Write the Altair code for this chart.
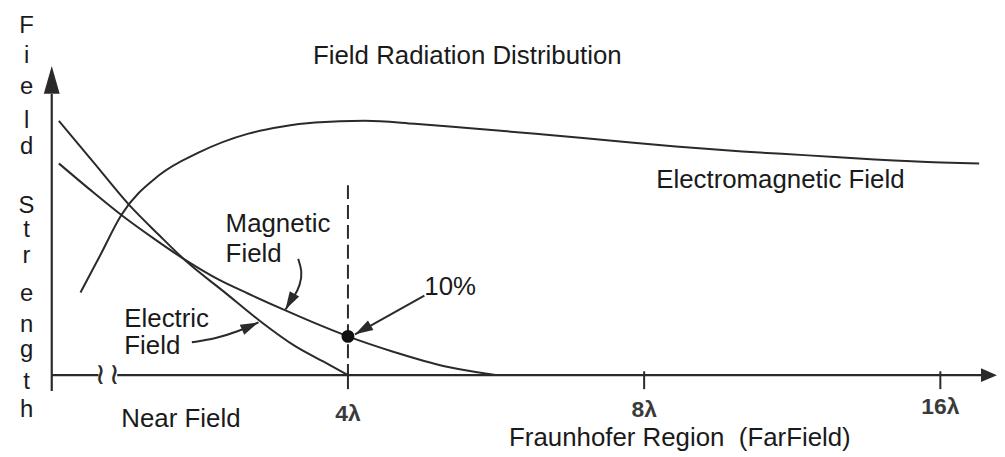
import altair as alt
import pandas as pd

# x: distance position (1 = 4λ, 2 = 8λ, 3 = 16λ), y: relative field strength
electric_x = [0.024, 0.144, 0.262, 0.362, 0.456, 0.581, 0.705, 0.822, 0.933, 1.0]
electric_y = [85.3, 71.0, 57.0, 47.0, 38.0, 28.0, 18.0, 9.7, 3.7, 0.0]

magnetic_x = [0.024, 0.128, 0.235, 0.346, 0.456, 0.564, 0.664, 0.789, 0.899, 1.0,
              1.158, 1.326, 1.436, 1.503]
magnetic_y = [71.0, 62.3, 53.7, 45.7, 38.3, 32.0, 27.3, 21.7, 17.0, 13.0,
              7.7, 3.0, 1.0, 0.0]

em_x = [0.097, 0.161, 0.235, 0.362, 0.497, 0.664, 0.775, 0.889, 1.057,
        1.225, 1.393, 1.661, 1.883, 2.107, 2.332, 2.554, 2.779, 3.003, 3.131]
em_y = [27.7, 39.7, 53.7, 67.0, 74.7, 81.0, 83.3, 84.7, 85.3,
        84.3, 83.0, 80.7, 78.7, 76.7, 75.0, 73.7, 72.3, 71.3, 71.0]

# axes
yaxis_x = [0.0, 0.0]
yaxis_y = [-5.3, 94.3]
xaxis_seg = [1, 1, 2, 2]
xaxis_x = [0.0, 0.158, 0.221, 3.148]
xaxis_y = [0.0, 0.0, 0.0, 0.0]
break_x = [0.164, 0.211]
tick_x = [1, 2, 3]
tick_labels = ["4λ", "8λ", "16λ"]
tick_label_y = [-15.3, -14.0, -13.0]
tick_top = 1.3
tick_bottom = -4.7

# 4λ marker
marker_x = [1.0]
marker_y = [13.0]
dash_top = 63.7

# annotation arrows
arrow_id = [1, 1, 2, 2, 2, 2, 2, 3, 3, 3, 3]
arrow_x = [1.258, 1.024, 0.832, 0.846, 0.839, 0.819, 0.789, 0.473, 0.554, 0.631, 0.698]
arrow_y = [26.7, 13.7, 39.0, 34.7, 30.3, 26.3, 22.0, 11.0, 12.3, 14.7, 17.7]
tip_x = [1.024, 0.789, 0.698]
tip_y = [13.7, 22.0, 17.7]
tip_angle = [240, 210, 66]

# texts
label_text = ["Magnetic", "Field", "10%", "Electric", "Field", "Near Field",
              "Fraunhofer Region\u00a0 (FarField)"]
label_x = [0.587, 0.587, 1.258, 0.245, 0.245, 0.235, 1.544]
label_y = [48.0, 38.0, 27.0, 16.3, 7.0, -17.3, -23.7]

center_text = ["Field Radiation Distribution", "Electromagnetic Field"]
center_x = [1.403, 2.460]
center_y = [104.3, 62.7]

side_letters = list("FieldStrength")
side_x = -0.085
side_y = [114.7, 104.7, 94.3, 83.0, 74.3, 54.3, 46.3, 37.7, 24.7, 14.3, 6.0, -4.7, -14.0]

INK = "#2a2a2a"
TEXT = "#1a1a1a"
FONT = "Liberation Sans"

xs = alt.Scale(domain=[-0.1477, 3.1913], nice=False, zero=False)
ys = alt.Scale(domain=[-27.0, 122.67], nice=False, zero=False)
X = lambda f="x": alt.X(f"{f}:Q", scale=xs, axis=None)
Y = lambda f="y": alt.Y(f"{f}:Q", scale=ys, axis=None)

curves = pd.DataFrame({
    "x": electric_x + magnetic_x + em_x,
    "y": electric_y + magnetic_y + em_y,
    "s": ["E"] * len(electric_x) + ["M"] * len(magnetic_x) + ["EM"] * len(em_x),
})
curve_layer = alt.Chart(curves).mark_line(color=INK, strokeWidth=2, interpolate="monotone").encode(
    x=X(), y=Y(), detail="s:N")

yaxis = alt.Chart(pd.DataFrame({"x": yaxis_x, "y": yaxis_y})).mark_line(color=INK, strokeWidth=2.2).encode(
    x=X(), y=Y())
xaxis = alt.Chart(pd.DataFrame({"x": xaxis_x, "y": xaxis_y, "seg": xaxis_seg})).mark_line(
    color=INK, strokeWidth=2.2).encode(x=X(), y=Y(), detail="seg:N")
breaks = alt.Chart(pd.DataFrame({"x": break_x, "y": [0.0, 0.0], "t": ["≀", "≀"]})).mark_text(
    font="DejaVu Sans", fontSize=30, color=INK, baseline="middle", align="center").encode(
    x=X(), y=Y(), text="t:N")

ticks = alt.Chart(pd.DataFrame({"x": tick_x, "y": [tick_top] * 3, "y2": [tick_bottom] * 3})).mark_rule(
    color=INK, strokeWidth=2).encode(x=X(), y=Y(), y2="y2:Q")
tick_text = alt.Chart(pd.DataFrame({"x": tick_x, "y": tick_label_y, "t": tick_labels})).mark_text(
    font=FONT, fontSize=23, fontWeight="bold", color="#3a3a3a", align="center", baseline="alphabetic").encode(
    x=X(), y=Y(), text="t:N")

dash = alt.Chart(pd.DataFrame({"x": marker_x, "y": [dash_top], "y2": [0.0]})).mark_rule(
    color=INK, strokeWidth=2, strokeDash=[14, 6]).encode(x=X(), y=Y(), y2="y2:Q")
dot = alt.Chart(pd.DataFrame({"x": marker_x, "y": marker_y})).mark_point(
    shape="circle", filled=True, size=170, color="#111", opacity=1).encode(x=X(), y=Y())

arrows = alt.Chart(pd.DataFrame({"x": arrow_x, "y": arrow_y, "a": arrow_id,
                                 "i": list(range(len(arrow_x)))})).mark_line(
    color=INK, strokeWidth=2, interpolate="basis").encode(
    x=X(), y=Y(), detail="a:N", order="i:Q")
tips = alt.Chart(pd.DataFrame({"x": tip_x, "y": tip_y, "ang": tip_angle})).mark_point(
    shape="M0,0L-0.6,2L0.6,2Z", filled=True, size=330, color=INK, opacity=1).encode(
    x=X(), y=Y(), angle=alt.Angle("ang:Q", scale=None))

yhead = alt.Chart(pd.DataFrame({"x": [0.0], "y": [103.7]})).mark_point(
    shape="M0,0L-0.57,2L0.57,2Z", filled=True, size=784, color=INK, opacity=1).encode(x=X(), y=Y())
xhead = alt.Chart(pd.DataFrame({"x": [3.191], "y": [0.0]})).mark_point(
    shape="M0,0L-0.875,2L0.875,2Z", filled=True, size=256, color=INK, opacity=1, angle=90).encode(x=X(), y=Y())

labels = alt.Chart(pd.DataFrame({"x": label_x, "y": label_y, "t": label_text})).mark_text(
    font=FONT, fontSize=26, color=TEXT, align="left", baseline="alphabetic").encode(
    x=X(), y=Y(), text="t:N")
centered = alt.Chart(pd.DataFrame({"x": center_x, "y": center_y, "t": center_text})).mark_text(
    font=FONT, fontSize=26, color=TEXT, align="center", baseline="alphabetic").encode(
    x=X(), y=Y(), text="t:N")
side = alt.Chart(pd.DataFrame({"x": [side_x] * len(side_letters), "y": side_y, "t": side_letters})).mark_text(
    font=FONT, fontSize=24, color=TEXT, align="center", baseline="alphabetic").encode(
    x=X(), y=Y(), text="t:N")

chart = alt.layer(
    curve_layer, yaxis, xaxis, breaks, ticks, tick_text, dash, arrows, tips, dot,
    yhead, xhead, labels, centered, side
).properties(
    width=995, height=449, padding=0, autosize=alt.AutoSizeParams(type="none"), background="white"
).configure_view(stroke=None)

chart.save("out.html", embed_options={"renderer": "svg", "actions": False})
